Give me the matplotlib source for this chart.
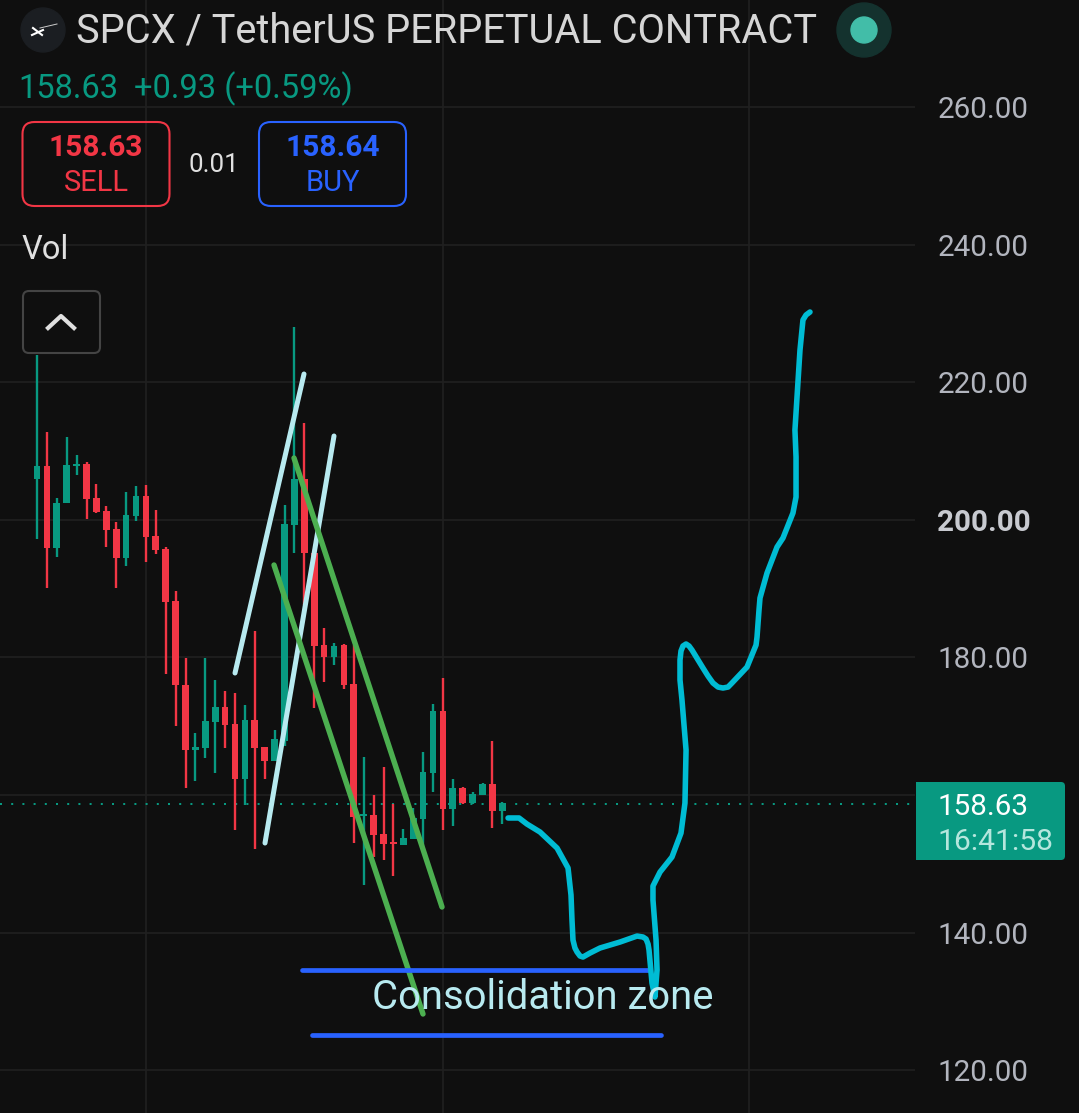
# plot.py
import matplotlib
matplotlib.use('Agg')
import matplotlib.pyplot as plt
from matplotlib.patches import FancyBboxPatch, Circle, Rectangle

plt.rcParams['font.family'] = ['Roboto', 'DejaVu Sans']

# velas, una por barra
opens = [205.9, 207.8, 195.9, 202.4, 207.8, 208.1, 203.2, 201.28, 198.66, 194.4, 200.55, 203.46,
         197.64, 195.75, 188.2, 176.0, 166.54, 166.83, 170.61, 172.79, 170.32, 162.32, 170.9, 166.97,
         164.94, 167.85, 199.24, 205.93, 195.17, 181.8, 180.06, 181.8, 176.13, 156.94, 157.09, 154.33,
         153.17, 152.73, 153.6, 156.51, 163.19, 172.21, 157.96, 161.02, 158.83, 160.0, 161.6, 157.67]
closes = [207.8, 195.9, 202.44, 207.96, 208.11, 203.02, 201.13, 198.51, 194.45, 200.7, 203.46, 197.5,
          195.61, 188.05, 176.0, 166.54, 166.97, 170.75, 172.79, 170.17, 162.32, 170.9, 166.83, 164.94,
          168.14, 199.39, 205.93, 195.17, 181.66, 180.06, 181.66, 176.0, 156.8, 157.24, 154.18, 152.88,
          152.88, 153.75, 156.66, 163.34, 172.21, 157.96, 161.02, 158.83, 160.14, 161.6, 157.67, 158.83]
highs = [223.95, 212.76, 203.17, 212.03, 209.42, 208.4, 205.2, 202.0, 199.68, 204.04, 204.91, 205.06,
         201.42, 196.04, 189.65, 179.91, 169.01, 179.91, 176.71, 175.11, 174.82, 173.08, 183.83, 166.97,
         169.44, 202.15, 228.02, 214.07, 195.75, 184.27, 182.09, 181.95, 181.8, 165.52, 160.0, 164.07,
         158.69, 155.06, 158.11, 166.25, 173.22, 177.0, 162.32, 161.16, 160.43, 161.74, 167.85, 158.98]
lows = [197.21, 190.09, 194.59, 202.4, 206.51, 200.11, 200.99, 196.04, 190.09, 193.28, 199.82, 193.86,
        195.03, 177.59, 170.03, 161.02, 162.03, 165.37, 163.19, 166.83, 154.91, 158.55, 152.15, 162.32,
        164.94, 167.12, 195.17, 187.61, 172.64, 176.42, 178.89, 175.41, 153.02, 146.92, 150.99, 150.55,
        148.22, 152.73, 153.6, 152.29, 160.43, 154.91, 155.49, 158.69, 158.69, 160.0, 155.2, 155.78]

price_ticks = [120, 140, 160, 180, 200, 220, 240, 260]
time_grid = [11, 41, 71.9]
last_price = 158.63

# dibujos a mano (barra, precio)
light_a_bar = [20.0, 26.97]
light_a_price = [177.73, 221.19]
light_b_bar = [23.03, 30.0]
light_b_price = [153.02, 212.18]
green_a_bar = [25.96, 40.91]
green_a_price = [208.98, 143.72]
green_b_bar = [23.94, 38.99]
green_b_price = [193.43, 128.17]
blue_a_bar = [26.77, 61.82]
blue_a_price = [134.56, 134.56]
blue_b_bar = [27.78, 63.03]
blue_b_price = [125.11, 125.11]
path_bar = [47.58, 48.69, 49.49, 50.81, 52.53, 53.64, 53.94, 54.04, 54.14, 54.34, 54.55, 54.85, 55.15,
            55.86, 56.87, 58.89, 60.61, 61.21, 61.52, 61.72, 61.82, 62.12, 62.42, 62.63, 62.53, 62.22,
            62.22, 62.93, 64.14, 65.05, 65.45, 65.56, 65.15, 64.95, 64.95, 65.05, 65.25, 65.56, 65.86,
            66.16, 67.27, 67.78, 68.28, 68.79, 69.29, 69.8, 70.2, 71.72, 72.63, 72.73, 72.93, 73.03,
            73.74, 74.75, 75.35, 76.36, 76.67, 76.67, 76.56, 76.77, 77.07, 77.37, 77.68, 78.08]
path_price = [156.66, 156.66, 155.78, 154.62, 152.29, 149.39, 145.46, 141.83, 138.92, 137.76, 137.18,
              136.6, 136.45, 137.03, 137.76, 138.63, 139.5, 139.36, 139.07, 138.34, 137.47, 132.67,
              130.64, 134.56, 138.92, 144.74, 146.77, 148.8, 150.99, 154.47, 158.83, 166.54, 173.81,
              176.71, 179.62, 180.93, 181.66, 181.95, 181.66, 181.07, 178.46, 177.29, 176.28, 175.69,
              175.55, 175.69, 176.28, 178.6, 181.8, 182.96, 186.89, 188.63, 192.27, 196.04, 197.35,
              200.99, 203.31, 209.13, 213.05, 217.85, 224.68, 229.04, 229.77, 230.2]

BG = '#0f0f0f'
GRID = '#202020'
UP = '#089981'
DOWN = '#f23645'
BLUE = '#2962ff'
LIGHT = '#b8eaf0'
GREEN_LINE = '#4caf50'
CYAN = '#00bcd4'

fig = plt.figure(figsize=(10.79, 11.13), dpi=100, facecolor=BG)
ax = fig.add_axes([0, 0, 915 / 1079, 1], facecolor=BG)
ax.set_xlim(-37 / 9.9, (915 - 37) / 9.9)
ax.set_ylim(113.78, 275.55)

for side in ax.spines.values():
    side.set_visible(False)
ax.set_xticks([])
ax.yaxis.tick_right()
ax.set_yticks(price_ticks)
# la etiqueta de 160 queda tapada por la del ultimo precio
ax.set_yticklabels(['' if p == 160 else '%.2f' % p for p in price_ticks])
ax.tick_params(axis='y', length=0, pad=16, labelsize=21.3, labelcolor='#b2b5be')
for lab in ax.get_yticklabels():
    if lab.get_text() == '200.00':
        lab.set_fontweight('bold')
        lab.set_color('#c8cad0')

ax.hlines(price_ticks, *ax.get_xlim(), color=GRID, lw=1.2, zorder=0)
ax.vlines(time_grid, *ax.get_ylim(), color=GRID, lw=1.2, zorder=0)
ax.axhline(last_price, color=UP, lw=1.44, ls=(0, (1.0, 4.6)), zorder=1)

# velas
for i in range(len(opens)):
    col = UP if closes[i] >= opens[i] else DOWN
    ax.vlines(i, lows[i], highs[i], color=col, lw=1.7, zorder=2)
    ax.bar(i, abs(closes[i] - opens[i]), bottom=min(opens[i], closes[i]), width=0.68, color=col, zorder=2)

# lineas dibujadas
for bx, by, c, w in [(light_a_bar, light_a_price, LIGHT, 3.6),
                     (light_b_bar, light_b_price, LIGHT, 3.6),
                     (green_a_bar, green_a_price, GREEN_LINE, 3.9),
                     (green_b_bar, green_b_price, GREEN_LINE, 3.9),
                     (blue_a_bar, blue_a_price, BLUE, 3.4),
                     (blue_b_bar, blue_b_price, BLUE, 3.4)]:
    ax.plot(bx, by, color=c, lw=w, solid_capstyle='round', zorder=3)
ax.plot(path_bar, path_price, color=CYAN, lw=4, solid_capstyle='round', solid_joinstyle='round', zorder=4)

# capa de interfaz en pixeles
ui = fig.add_axes([0, 0, 1, 1])
ui.set_xlim(0, 1079)
ui.set_ylim(1113, 0)
ui.axis('off')
ui.patch.set_alpha(0)

ui.add_patch(Circle((43, 30), 22, color='#1b1e22'))
ui.plot([32, 43], [35, 30], color='white', lw=1.5)
ui.plot([33, 42], [28, 35], color='white', lw=1.5)
ui.plot([40, 57], [28, 24], color='#cccccc', lw=0.7)
ui.text(76.5, 42.5, 'SPCX / TetherUS PERPETUAL CONTRACT', color='#d6d6d6', fontsize=28.6, va='baseline')
ui.add_patch(Circle((864, 30), 27, color='#14322e'))
ui.add_patch(Circle((864, 30), 13, color='#42bda8'))

ui.text(18.5, 98, '158.63', color=UP, fontsize=23.5, va='baseline')
ui.text(134, 98, '+0.93 (+0.59%)', color=UP, fontsize=23.5, va='baseline')


def button(x0, x1, col, price, word):
    ui.add_patch(FancyBboxPatch((x0 + 12, 134), x1 - x0 - 24, 60, boxstyle='round,pad=12,rounding_size=12',
                                fc='none', ec=col, lw=1.5))
    mid = (x0 + x1) / 2
    ui.text(mid, 156, price, color=col, fontsize=21.5, fontweight='bold', ha='center', va='baseline')
    ui.text(mid, 191, word, color=col, fontsize=21, ha='center', va='baseline')


button(22.5, 169.5, DOWN, '158.63', 'SELL')
button(259, 406, BLUE, '158.64', 'BUY')
ui.text(214, 172, '0.01', color='#e0e0e0', fontsize=18.6, ha='center', va='baseline')
ui.text(22, 259, 'Vol', color='#e0e0e0', fontsize=23.5, va='baseline')

ui.add_patch(FancyBboxPatch((29, 297), 65, 50, boxstyle='round,pad=6,rounding_size=6',
                            fc=BG, ec='#444444', lw=1.5, zorder=5))
ui.plot([48, 61, 74], [328, 316, 328], color='#e0e0e0', lw=3, zorder=6)

ui.add_patch(FancyBboxPatch((916, 782), 149, 78, boxstyle='round,pad=0,rounding_size=4', fc=UP, ec='none'))
ui.add_patch(Rectangle((916, 782), 10, 78, fc=UP, ec='none'))
ui.text(937.5, 815, '158.63', color='white', fontsize=21.3, va='baseline')
ui.text(937.5, 850, '16:41:58', color='#b5e6dd', fontsize=21.6, va='baseline')

ui.text(371.5, 1009, 'Consolidation zone', color=LIGHT, fontsize=28.8, va='baseline', zorder=3)

fig.savefig('out.png', dpi=100, facecolor=BG)
